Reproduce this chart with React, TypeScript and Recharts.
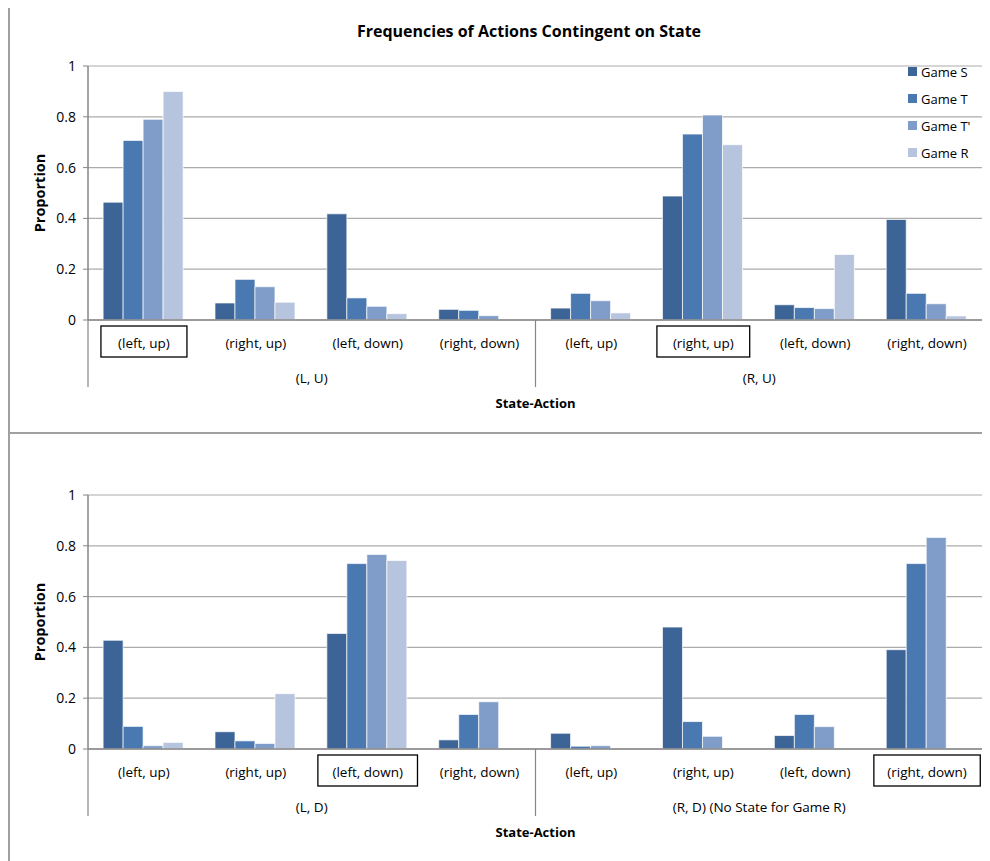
import React from 'react';
import { BarChart, Bar, XAxis, YAxis, CartesianGrid, Label } from 'recharts';

const actions = ['(left, up)', '(right, up)', '(left, down)', '(right, down)'];
const topStates = ['(L, U)', '(R, U)'];
const bottomStates = ['(L, D)', '(R, D) (No State for Game R)'];
const yTicks = [0, 0.2, 0.4, 0.6, 0.8, 1];

const seriesKeys = ['S', 'T', 'Tp', 'R'];
const seriesNames = ['Game S', 'Game T', "Game T'", 'Game R'];
const seriesColors = ['#3c6496', '#4a78b0', '#7f9dc8', '#b6c4de'];

// top panel, 8 slots: 4 actions in (L, U) then 4 in (R, U)
const topS = [0.464, 0.067, 0.418, 0.042, 0.047, 0.488, 0.06, 0.396];
const topT = [0.707, 0.16, 0.087, 0.038, 0.105, 0.732, 0.049, 0.105];
const topTp = [0.79, 0.131, 0.054, 0.017, 0.076, 0.807, 0.045, 0.064];
const topR = [0.9, 0.07, 0.025, null, 0.028, 0.69, 0.258, 0.016];
const topBoxed = [0, 5];

// bottom panel: (L, D) then (R, D)
const botS = [0.428, 0.068, 0.455, 0.036, 0.062, 0.48, 0.053, 0.391];
const botT = [0.089, 0.032, 0.73, 0.136, 0.011, 0.108, 0.136, 0.73];
const botTp = [0.013, 0.022, 0.766, 0.186, 0.013, 0.05, 0.088, 0.833];
const botR = [0.026, 0.218, 0.742, null, null, null, null, null];
const botBoxed = [2, 7];

const FONT = '"Open Sans", sans-serif';
const W = 982;
const Y_W = 80;
const RIGHT = 7;
const AXIS_GRAY = '#868686';

function buildRows(states: string[], vals: (number | null)[][]) {
  const rows: any[] = [];
  states.forEach((st, si) => {
    actions.forEach((a, ai) => {
      const i = si * actions.length + ai;
      const row: any = { id: String(i), action: a, state: st };
      seriesKeys.forEach((k, ki) => (row[k] = vals[ki][i]));
      rows.push(row);
    });
  });
  return rows;
}

function ActionTick(props: any) {
  const { x, y, payload, rows, boxed } = props;
  const i = payload.index;
  const row = rows[i];
  const half = (W - Y_W - RIGHT) / rows.length / 2;
  const label = row.action;
  const bw = label.length * 6.8 + 18;
  const per = actions.length;
  return (
    <g>
      {boxed.includes(i) && (
        <rect x={x - bw / 2} y={y + 6} width={bw} height={31} fill="none" stroke="#000" strokeWidth={1.3} />
      )}
      <text x={x} y={y + 23} textAnchor="middle" dominantBaseline="central" fontSize={13.5} fontFamily={FONT} fill="#000">
        {label}
      </text>
      {i % per === 0 && <line x1={x - half} x2={x - half} y1={y} y2={y + 67} stroke={AXIS_GRAY} strokeWidth={1.2} />}
      {i === rows.length - 1 && <line x1={x + half} x2={x + half} y1={y} y2={y + 67} stroke={AXIS_GRAY} strokeWidth={1.2} />}
      {i % per === 1 && (
        <text x={x + half} y={y + 58} textAnchor="middle" dominantBaseline="central" fontSize={13.5} fontFamily={FONT} fill="#000">
          {row.state}
        </text>
      )}
    </g>
  );
}

function Panel({ rows, boxed, height, top }: { rows: any[]; boxed: number[]; height: number; top: number }) {
  const bottom = height - top - 254 - 100;
  return (
    <BarChart
      width={W}
      height={height}
      data={rows}
      margin={{ top, right: RIGHT, left: 0, bottom }}
      barCategoryGap="13.5%"
      barGap={0}
    >
      <CartesianGrid vertical={false} stroke="#ababab" strokeWidth={1.2} />
      <XAxis
        dataKey="id"
        interval={0}
        height={100}
        tickLine={false}
        tickSize={0}
        tickMargin={0}
        axisLine={{ stroke: AXIS_GRAY, strokeWidth: 1.5 }}
        tick={<ActionTick rows={rows} boxed={boxed} />}
      >
        <Label
          content={(p: any) => {
            const vb = p.viewBox;
            return (
              <text x={vb.x + vb.width / 2} y={vb.y + 83} textAnchor="middle" dominantBaseline="central" fontSize={13} fontWeight="bold" fontFamily={FONT} fill="#000">
                State-Action
              </text>
            );
          }}
        />
      </XAxis>
      <YAxis
        width={Y_W}
        domain={[0, 1]}
        ticks={yTicks}
        interval={0}
        tickSize={5}
        tickMargin={7}
        tickLine={{ stroke: AXIS_GRAY }}
        axisLine={{ stroke: AXIS_GRAY, strokeWidth: 1.5 }}
        tick={{ fill: '#000', fontSize: 14, fontFamily: FONT }}
        tickFormatter={(v: number) => String(v)}
      >
        <Label
          content={(p: any) => {
            const vb = p.viewBox;
            const cy = vb.y + vb.height / 2;
            return (
              <text x={31} y={cy} transform={`rotate(-90, 31, ${cy})`} textAnchor="middle" dominantBaseline="central" fontSize={14.5} fontWeight="bold" fontFamily={FONT} fill="#000">
                Proportion
              </text>
            );
          }}
        />
      </YAxis>
      {seriesKeys.map((k, i) => (
        <Bar key={k} dataKey={k} name={seriesNames[i]} fill={seriesColors[i]} stroke="#ffffff" strokeWidth={0.7} isAnimationActive={false} />
      ))}
    </BarChart>
  );
}

export default function App() {
  const topRows = buildRows(topStates, [topS, topT, topTp, topR]);
  const botRows = buildRows(bottomStates, [botS, botT, botTp, botR]);

  return (
    <div style={{ position: 'relative', width: W, height: 856, marginTop: -3, background: '#fff', fontFamily: FONT }}>
      <div style={{ position: 'absolute', left: 0, top: 0, width: 2, height: 856, background: '#a0a0a0' }} />
      <div style={{ position: 'absolute', left: 0, top: 0, width: W, height: 2, background: '#a0a0a0' }} />
      <div style={{ position: 'absolute', left: 0, top: 427, width: W, height: 2, background: '#a0a0a0' }} />

      <div style={{ position: 'absolute', left: 0, top: 0 }}>
        <Panel rows={topRows} boxed={topBoxed} height={428} top={61} />
        <div style={{ position: 'absolute', left: 271, width: 500, top: 15, lineHeight: '22px', textAlign: 'center', fontWeight: 'bold', fontSize: 16 }}>
          Frequencies of Actions Contingent on State
        </div>
        <div style={{ position: 'absolute', left: 900, top: 53 }}>
          {seriesNames.map((n, i) => (
            <div key={n} style={{ display: 'flex', alignItems: 'center', height: 27, fontSize: 13 }}>
              <span style={{ width: 9, height: 9, background: seriesColors[i], marginRight: 4, display: 'inline-block' }} />
              {n}
            </div>
          ))}
        </div>
      </div>

      <div style={{ position: 'absolute', left: 0, top: 428 }}>
        <Panel rows={botRows} boxed={botBoxed} height={428} top={62} />
      </div>
    </div>
  );
}
